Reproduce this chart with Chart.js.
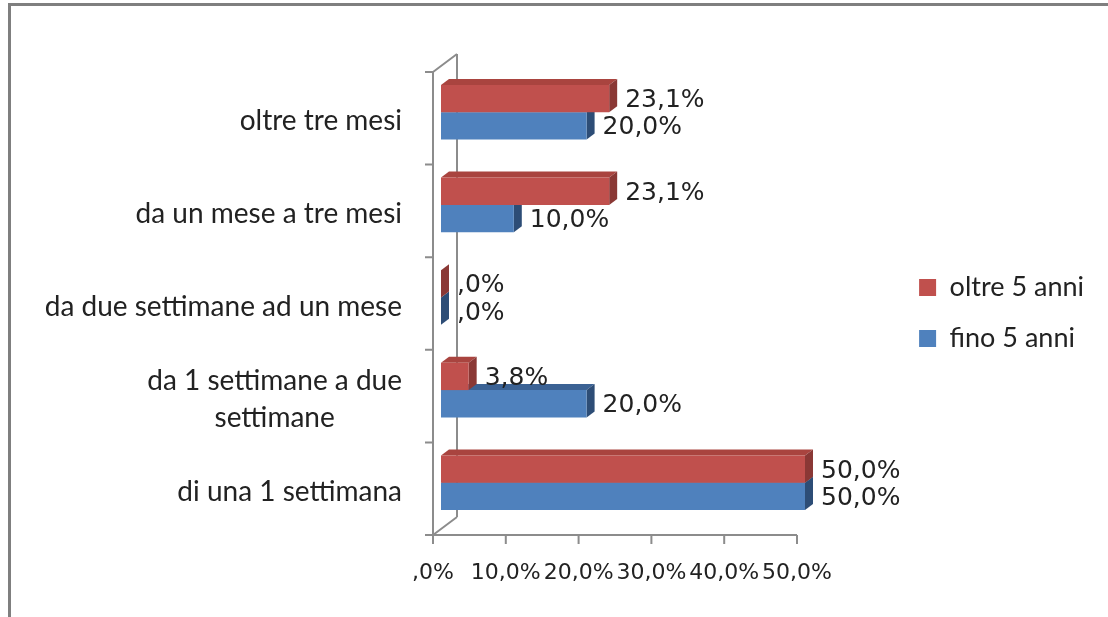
<!DOCTYPE html>
<html>
<head>
<meta charset="utf-8">
<script src="https://cdn.jsdelivr.net/npm/chart.js@4/dist/chart.umd.min.js"></script>
<style>
  html, body { margin: 0; padding: 0; background: #ffffff; }
  #wrap { position: relative; width: 1108px; height: 617px; }
</style>
</head>
<body>
<div id="wrap"><canvas id="c" width="1108" height="617"></canvas></div>
<script>
// ---- data (top level) ----
const categories = [
  "oltre tre mesi",
  "da un mese a tre mesi",
  "da due settimane ad un mese",
  ["da 1 settimane a due", "settimane"],
  "di una 1 settimana"
];
const seriesNames = ["oltre 5 anni", "fino 5 anni"];
const oltre5anni = [23.1, 23.1, 0.0, 3.8, 50.0];
const fino5anni  = [20.0, 10.0, 0.0, 20.0, 50.0];
const xTickValues = [0, 10, 20, 30, 40, 50];

const frontColors = ["#C0504D", "#4F81BD"];
const topColors   = ["#A9443F", "#3B6294"];
const sideColors  = ["#8A3835", "#2D4D76"];

function fmtPct(v) {
  let s = v.toFixed(1).replace('.', ',');
  if (s.startsWith('0')) s = s.slice(1);
  return s + '%';
}

const DX = 8, DY = 6;          // 3D depth offset of bars
const AXIS = '#8C8C8C';
const TEXT = '#222222';
const CAT_FONT = '28px Lato';
const CAT_LINE = 37;

const depthPlugin = {
  id: 'depth3d',
  beforeDraw(chart) {
    const ctx = chart.ctx;
    ctx.save();
    ctx.fillStyle = '#7F7F7F';
    ctx.fillRect(8, 3, 3, 617 - 3);
    ctx.fillRect(8, 3, 1108 - 8, 3);
    ctx.restore();
  },
  beforeDatasetsDraw(chart) {
    const ctx = chart.ctx;
    const ca = chart.chartArea;
    const xs = chart.scales.x;
    const n = categories.length;
    const fl = ca.left - DX, ft = ca.top + DY, fb = ca.bottom + DY;   // front axis
    const bl = ca.left + DX * 2, bt = ca.top - DY * 2, bb = ca.bottom - DY * 2; // back wall
    ctx.save();
    ctx.strokeStyle = AXIS;
    ctx.lineWidth = 2;
    ctx.beginPath();
    ctx.moveTo(bl, bt); ctx.lineTo(bl, bb);
    ctx.moveTo(fl, ft); ctx.lineTo(bl, bt);
    ctx.moveTo(fl, fb); ctx.lineTo(bl, bb);
    ctx.moveTo(fl, ft); ctx.lineTo(fl, fb);
    for (let k = 0; k <= n; k++) {
      const y = ft + k * (fb - ft) / n;
      ctx.moveTo(fl - 8, y); ctx.lineTo(fl, y);
    }
    const x50 = xs.getPixelForValue(xTickValues[xTickValues.length - 1]) - DX;
    ctx.moveTo(fl - 8, fb); ctx.lineTo(x50, fb);
    xTickValues.forEach(v => {
      const x = xs.getPixelForValue(v) - DX;
      ctx.moveTo(x, fb); ctx.lineTo(x, fb + 9);
    });
    ctx.stroke();

    // top and side faces (lower series first, then upper)
    for (let d = chart.data.datasets.length - 1; d >= 0; d--) {
      const meta = chart.getDatasetMeta(d);
      meta.data.forEach(bar => {
        const p = bar.getProps(['x', 'y', 'base', 'height'], true);
        const x0 = p.base, x1 = p.x;
        const yt = p.y - p.height / 2, yb = p.y + p.height / 2;
        if (x1 - x0 > 0.5) {
          ctx.fillStyle = topColors[d];
          ctx.beginPath();
          ctx.moveTo(x0, yt); ctx.lineTo(x0 + DX, yt - DY);
          ctx.lineTo(x1 + DX, yt - DY); ctx.lineTo(x1, yt);
          ctx.closePath(); ctx.fill();
        }
        ctx.fillStyle = sideColors[d];
        ctx.beginPath();
        ctx.moveTo(x1, yt); ctx.lineTo(x1 + DX, yt - DY);
        ctx.lineTo(x1 + DX, yb - DY); ctx.lineTo(x1, yb);
        ctx.closePath(); ctx.fill();
      });
    }

    // category labels: right-aligned blocks, lines centred within block
    const ys = chart.scales.y;
    ctx.font = CAT_FONT;
    ctx.fillStyle = TEXT;
    ctx.textAlign = 'center';
    ctx.textBaseline = 'middle';
    const rightEdge = ca.left - 39;
    categories.forEach((lab, i) => {
      const lines = Array.isArray(lab) ? lab : [lab];
      const w = Math.max(...lines.map(l => ctx.measureText(l).width));
      const cx = rightEdge - w / 2;
      const cy = ys.getPixelForTick(i) + 9;
      lines.forEach((l, k) => {
        ctx.fillText(l, cx, cy + (k - (lines.length - 1) / 2) * CAT_LINE);
      });
    });
    ctx.restore();
  },
  afterDatasetsDraw(chart) {
    const ctx = chart.ctx;
    ctx.save();
    ctx.font = '25px "DejaVu Sans"';
    ctx.fillStyle = TEXT;
    ctx.textAlign = 'left';
    ctx.textBaseline = 'middle';
    chart.data.datasets.forEach((ds, d) => {
      const meta = chart.getDatasetMeta(d);
      meta.data.forEach((bar, i) => {
        const p = bar.getProps(['x', 'y'], true);
        ctx.fillText(fmtPct(ds.data[i]), p.x + DX + 8, p.y + 2);
      });
    });
    ctx.restore();
  }
};

const chart = new Chart(document.getElementById('c'), {
  type: 'bar',
  data: {
    labels: categories,
    datasets: [
      { label: seriesNames[0], data: oltre5anni, backgroundColor: frontColors[0], borderWidth: 0 },
      { label: seriesNames[1], data: fino5anni,  backgroundColor: frontColors[1], borderWidth: 0 }
    ]
  },
  options: {
    indexAxis: 'y',
    responsive: false,
    animation: false,
    events: [],
    layout: { padding: { top: 66, left: 0, right: 14, bottom: 0 } },
    datasets: { bar: { barPercentage: 1.0, categoryPercentage: 0.59 } },
    scales: {
      x: {
        min: 0,
        max: 60,
        grid: { display: false, drawTicks: false },
        border: { display: false },
        ticks: {
          stepSize: 10,
          padding: 31,
          labelOffset: -DX,
          color: TEXT,
          font: { family: 'DejaVu Sans', size: 22 },
          callback: v => fmtPct(v)
        },
        afterBuildTicks: s => { s.ticks = s.ticks.filter(t => xTickValues.includes(t.value)); },
        afterFit: s => { s.height = 88; }
      },
      y: {
        grid: { display: false, drawTicks: false },
        border: { display: false },
        ticks: { display: false },
        afterFit: s => { s.width = 441; }
      }
    },
    plugins: {
      legend: {
        position: 'right',
        align: 'start',
        title: {
          display: true,
          text: ' ',
          font: { size: 10 },
          padding: { top: 172, bottom: 0 }
        },
        labels: {
          boxWidth: 17,
          boxHeight: 17,
          padding: 24,
          color: TEXT,
          font: { family: 'Lato', size: 27 }
        }
      },
      tooltip: { enabled: false }
    }
  },
  plugins: [depthPlugin]
});

// scale so that 50% lands where the reference puts it
const ca = chart.chartArea;
chart.options.scales.x.max = 50 * (ca.right - ca.left) / (805 - 441);
chart.update('none');
</script>
</body>
</html>
